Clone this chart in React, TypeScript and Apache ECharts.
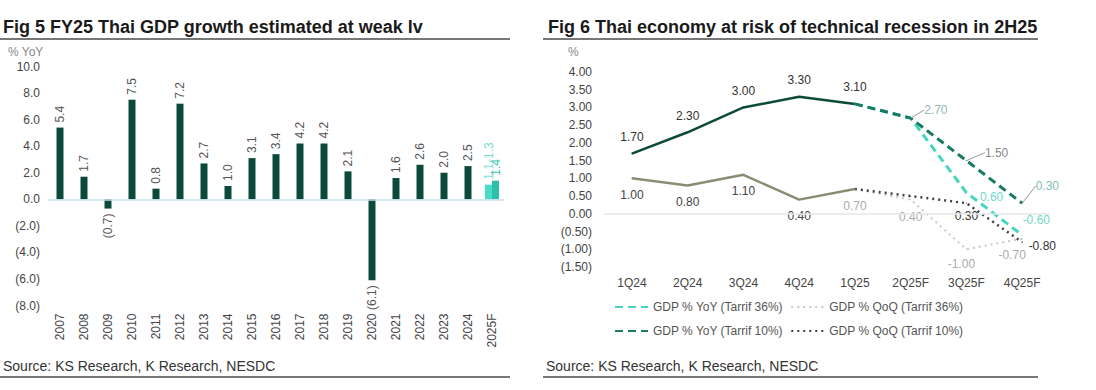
import React, { useEffect, useRef } from "react";
import * as echarts from "echarts";

// ---------- Data ----------
const years = ["2007","2008","2009","2010","2011","2012","2013","2014","2015","2016","2017","2018","2019","2020","2021","2022","2023","2024","2025F"];
const gdpGrowth = [5.4,1.7,-0.7,7.5,0.8,7.2,2.7,1.0,3.1,3.4,4.2,4.2,2.1,-6.1,1.6,2.6,2.0,2.5,null];
const forecastLow = [null,null,null,null,null,null,null,null,null,null,null,null,null,null,null,null,null,null,1.1];
const forecastHigh = [null,null,null,null,null,null,null,null,null,null,null,null,null,null,null,null,null,null,1.4];
const forecastLowLabel = "1.1-1.3";
const leftYTicks = { min: -8, max: 10, interval: 2 };

const quarters = ["1Q24","2Q24","3Q24","4Q24","1Q25","2Q25F","3Q25F","4Q25F"];
const yoyActual = [1.7,2.3,3.0,3.3,3.1,null,null,null];
const qoqActual = [1.0,0.8,1.1,0.4,0.7,null,null,null];
const yoy36 = [null,null,null,null,3.1,2.7,0.6,-0.6];
const yoy10 = [null,null,null,null,3.1,2.7,1.5,0.3];
const qoq36 = [null,null,null,null,0.7,0.4,-1.0,-0.7];
const qoq10 = [null,null,null,null,0.7,0.5,0.3,-0.8];
const rightYTicks = { min: -1.5, max: 4, interval: 0.5 };

const names = {
  yoy36: "GDP % YoY (Tarrif 36%)",
  qoq36: "GDP % QoQ (Tarrif 36%)",
  yoy10: "GDP % YoY (Tarrif 10%)",
  qoq10: "GDP % QoQ (Tarrif 10%)",
};

const FONT = "Liberation Sans";

const fmtParen1 = (v: number) => (v < 0 ? `(${Math.abs(v).toFixed(1)})` : v.toFixed(1));
const fmtParen2 = (v: number) => (v < 0 ? `(${Math.abs(v).toFixed(2)})` : v.toFixed(2));

function barItems(values: (number | null)[]) {
  return values.map((v) => {
    if (v == null) return null;
    return {
      value: v,
      label: v < 0
        ? { show: true, position: "bottom", rotate: 90, align: "right", verticalAlign: "middle", distance: 5 }
        : { show: true, position: "top", rotate: 90, align: "left", verticalAlign: "middle", distance: 5 },
    };
  });
}

type LblMap = Record<number, any>;
function lineItems(values: (number | null)[], labels: LblMap) {
  return values.map((v, i) => {
    if (v == null) return null;
    const l = labels[i];
    return { value: v, label: l ? { show: true, ...l } : { show: false } };
  });
}

export default function App() {
  const ref = useRef<HTMLDivElement>(null);
  useEffect(() => {
    document.body.style.margin = "0";
    const chart = echarts.init(ref.current!, undefined, { renderer: "svg" });
    const lblBase = { fontFamily: FONT, fontSize: 12 };
    const lineCommon = {
      type: "line",
      xAxisIndex: 2,
      yAxisIndex: 1,
      symbol: "circle",
      symbolSize: 1,
      connectNulls: false,
    };
    chart.setOption({
      animation: false,
      textStyle: { fontFamily: FONT },
      grid: [
        { left: 48, top: 66.5, width: 456, height: 239 },
        { left: 604, top: 72, width: 446, height: 195 },
      ],
      xAxis: [
        {
          gridIndex: 0, type: "category", data: years,
          axisLine: { show: false }, axisTick: { show: false },
          axisLabel: { rotate: 90, margin: 8, fontSize: 12, color: "#444", fontFamily: FONT },
        },
        { gridIndex: 0, type: "category", data: years, show: false },
        {
          gridIndex: 1, type: "category", data: quarters,
          axisLine: { show: false }, axisTick: { show: false },
          axisLabel: { margin: 10, fontSize: 12, color: "#444", fontFamily: FONT },
        },
      ],
      yAxis: [
        {
          gridIndex: 0, type: "value", ...leftYTicks,
          splitLine: { show: false }, axisLine: { show: false }, axisTick: { show: false },
          axisLabel: { margin: 8, fontSize: 12, color: "#444", fontFamily: FONT, formatter: fmtParen1 },
        },
        {
          gridIndex: 1, type: "value", ...rightYTicks,
          splitLine: { show: false }, axisLine: { show: false }, axisTick: { show: false },
          axisLabel: { margin: 12, fontSize: 12, color: "#444", fontFamily: FONT, formatter: fmtParen2 },
        },
      ],
      legend: [
        {
          data: [names.yoy36, names.qoq36], left: 614, top: 301, orient: "horizontal",
          itemWidth: 33, itemHeight: 14, itemGap: 7, padding: 0,
          itemStyle: { opacity: 0 },
          textStyle: { fontSize: 12, color: "#555", fontFamily: FONT, padding: [0, 0, 0, 0] },
        },
        {
          data: [names.yoy10, names.qoq10], left: 614, top: 325, orient: "horizontal",
          itemWidth: 33, itemHeight: 14, itemGap: 7, padding: 0,
          itemStyle: { opacity: 0 },
          textStyle: { fontSize: 12, color: "#555", fontFamily: FONT },
        },
      ],
      series: [
        {
          type: "bar", xAxisIndex: 0, yAxisIndex: 0, barWidth: 7,
          itemStyle: { color: "#0b4a3a" },
          label: { ...lblBase, color: "#555", formatter: (p: any) => fmtParen1(p.value) },
          data: barItems(gdpGrowth),
          markLine: {
            silent: true, symbol: ["none", "none"], label: { show: false },
            lineStyle: { color: "#c6dfe8", type: "solid", width: 1.5 },
            data: [{ yAxis: 0 }],
          },
        },
        {
          type: "bar", xAxisIndex: 1, yAxisIndex: 0, barWidth: 7, barGap: "0%",
          itemStyle: { color: "#46dcc8" },
          label: { show: true, ...lblBase, color: "#7fe0d2", position: "top", rotate: 90, align: "left", verticalAlign: "middle", distance: 5, formatter: () => forecastLowLabel },
          data: forecastLow,
        },
        {
          type: "bar", xAxisIndex: 1, yAxisIndex: 0, barWidth: 7, barGap: "0%",
          itemStyle: { color: "#2cbfa9" },
          label: { show: true, ...lblBase, color: "#3cc6b2", position: "top", rotate: 90, align: "left", verticalAlign: "middle", distance: 5, formatter: (p: any) => p.value.toFixed(1) },
          data: forecastHigh,
        },
        // Right chart
        {
          ...lineCommon, name: "qoqActual",
          lineStyle: { color: "#8c8c74", width: 2.5 }, itemStyle: { color: "#8c8c74" },
          label: { ...lblBase, color: "#444", formatter: (p: any) => p.value.toFixed(2) },
          data: lineItems(qoqActual, {
            0: { position: "bottom", distance: 10 },
            1: { position: "bottom", distance: 10 },
            2: { position: "bottom", distance: 10 },
            3: { position: "bottom", distance: 10 },
            4: { position: "bottom", distance: 10, color: "#aaa" },
          }),
          markLine: {
            silent: true, symbol: ["none", "none"], label: { show: false },
            lineStyle: { color: "#e6e6e6", type: "solid", width: 1.5 },
            data: [{ yAxis: 0 }],
          },
        },
        {
          ...lineCommon, name: "yoyActual",
          lineStyle: { color: "#0d4a3a", width: 2.5 }, itemStyle: { color: "#0d4a3a" },
          label: { ...lblBase, color: "#333", formatter: (p: any) => p.value.toFixed(2) },
          data: lineItems(yoyActual, {
            0: { position: "top", distance: 10 },
            1: { position: "top", distance: 10 },
            2: { position: "top", distance: 10 },
            3: { position: "top", distance: 10 },
            4: { position: "top", distance: 10 },
          }),
        },
        {
          ...lineCommon, name: names.qoq36,
          lineStyle: { color: "#c8c8c8", width: 2, type: [2, 4] }, itemStyle: { color: "#c8c8c8" },
          label: { ...lblBase, color: "#aaa", formatter: (p: any) => p.value.toFixed(2) },
          data: lineItems(qoq36, {
            5: { position: "bottom", distance: 11 },
            6: { position: "bottom", distance: 8, offset: [-5, 0] },
            7: { position: "bottom", distance: 8, offset: [-10, 2] },
          }),
        },
        {
          ...lineCommon, name: names.qoq10,
          lineStyle: { color: "#404040", width: 2.5, type: [2, 4] }, itemStyle: { color: "#404040" },
          label: { ...lblBase, color: "#333", formatter: (p: any) => p.value.toFixed(2) },
          data: lineItems(qoq10, {
            6: { position: "bottom", distance: 6 },
            7: { position: "right", distance: 6, offset: [0, 4] },
          }),
        },
        {
          ...lineCommon, name: names.yoy36,
          lineStyle: { color: "#45d6c0", width: 3, type: [8, 5] }, itemStyle: { color: "#45d6c0" },
          label: { ...lblBase, color: "#6fd9c9", formatter: (p: any) => p.value.toFixed(2) },
          data: lineItems(yoy36, {
            6: { position: "right", distance: 5, offset: [8, 4] },
            7: { position: "right", distance: 0, offset: [0, -15] },
          }),
        },
        {
          ...lineCommon, name: names.yoy10,
          lineStyle: { color: "#177a62", width: 3, type: [8, 5] }, itemStyle: { color: "#177a62" },
          label: { ...lblBase, color: "#888", formatter: (p: any) => p.value.toFixed(2) },
          labelLine: { show: true, lineStyle: { color: "#999", width: 1 } },
          labelLayout: (p: any) => {
            if (p.dataIndex === 5) return { dx: 8, dy: -8 };
            if (p.dataIndex === 6) return { dx: 13, dy: -8 };
            if (p.dataIndex === 7) return { dx: 8, dy: -17 };
            return {};
          },
          data: lineItems(yoy10, {
            5: { position: "right", distance: 5, color: "#8fb8b0" },
            6: { position: "right", distance: 5, color: "#888" },
            7: { position: "right", distance: 5, color: "#7fbfb4" },
          }),
        },
      ],
      graphic: [
        { type: "text", left: 3, top: 18, style: { text: "Fig 5 FY25 Thai GDP growth estimated at weak lv", font: `bold 18px "${FONT}"`, fill: "#1a1a1a" } },
        { type: "line", shape: { x1: 0, y1: 39, x2: 510, y2: 39 }, style: { stroke: "#777", lineWidth: 2 } },
        { type: "text", left: 8, top: 46, style: { text: "% YoY", font: `12px "${FONT}"`, fill: "#888" } },
        { type: "text", left: 3, top: 359, style: { text: "Source: KS Research, K Research, NESDC", font: `14px "${FONT}"`, fill: "#333" } },
        { type: "line", shape: { x1: 0, y1: 377, x2: 510, y2: 377 }, style: { stroke: "#777", lineWidth: 2 } },

        { type: "text", left: 548, top: 18, style: { text: "Fig 6 Thai economy at risk of technical recession in 2H25", font: `bold 18px "${FONT}"`, fill: "#1a1a1a" } },
        { type: "line", shape: { x1: 543, y1: 39, x2: 1038, y2: 39 }, style: { stroke: "#777", lineWidth: 2 } },
        { type: "text", left: 568, top: 46, style: { text: "%", font: `12px "${FONT}"`, fill: "#888" } },
        { type: "text", left: 546, top: 359, style: { text: "Source: KS Research, K Research, NESDC", font: `14px "${FONT}"`, fill: "#333" } },
        { type: "line", shape: { x1: 543, y1: 377, x2: 1038, y2: 377 }, style: { stroke: "#777", lineWidth: 2 } },
      ],
    });
    return () => chart.dispose();
  }, []);
  return <div ref={ref} style={{ width: 1096, height: 390, background: "#fff" }} />;
}
